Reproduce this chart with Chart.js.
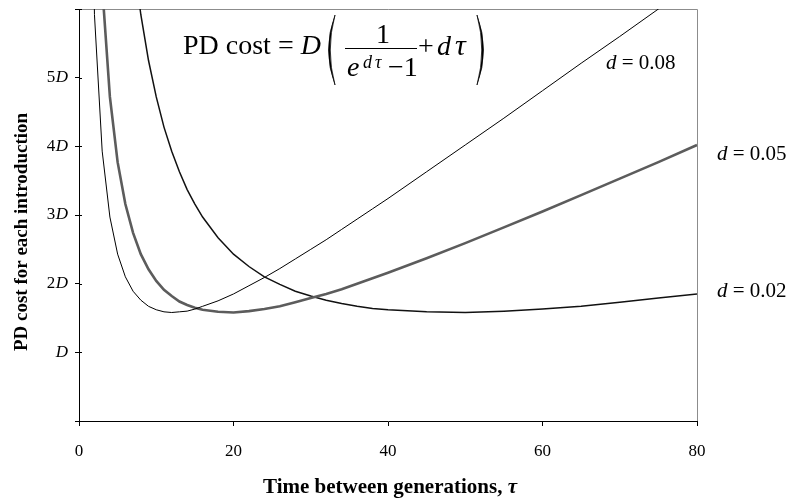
<!DOCTYPE html>
<html>
<head>
<meta charset="utf-8">
<title>PD cost for each introduction</title>
<script src="https://cdn.jsdelivr.net/npm/chart.js@4.4.0/dist/chart.umd.min.js"></script>
<style>
  html, body { margin: 0; padding: 0; background: #fff; }
  #chart { display: block; }
</style>
</head>
<body>
<canvas id="chart" width="790" height="500"></canvas>
<script>
// time between generations (x) and PD cost in units of D for each d
var tau = [1, 2, 3, 4, 5, 6, 7, 8, 9, 10, 11, 12, 13, 14, 15, 16, 18, 20, 22, 24, 26, 28,
           30, 32, 34, 36, 38, 40, 45, 50, 55, 60, 65, 70, 75, 80]
var cost008 = [12.09, 5.92, 3.93, 2.97, 2.43, 2.10, 1.89, 1.76, 1.67, 1.62, 1.59, 1.58, 1.59, 1.60, 1.63, 1.67, 1.75, 1.85, 1.97, 2.09, 2.22, 2.36,
               2.50, 2.64, 2.79, 2.94, 3.09, 3.24, 3.63, 4.02, 4.41, 4.81, 5.21, 5.60, 6.00, 6.40]
var cost005 = [19.55, 9.61, 6.33, 4.72, 3.77, 3.16, 2.74, 2.43, 2.21, 2.04, 1.91, 1.82, 1.74, 1.69, 1.65, 1.62, 1.59, 1.58, 1.60, 1.63, 1.67, 1.73,
               1.79, 1.85, 1.92, 2.00, 2.08, 2.16, 2.37, 2.59, 2.82, 3.05, 3.29, 3.53, 3.77, 4.02]
var cost002 = [49.52, 24.54, 16.23, 12.09, 9.61, 7.96, 6.79, 5.92, 5.25, 4.72, 4.28, 3.93, 3.63, 3.37, 3.16, 2.97, 2.67, 2.43, 2.25, 2.10, 1.99, 1.89,
               1.82, 1.76, 1.71, 1.67, 1.64, 1.62, 1.59, 1.58, 1.60, 1.63, 1.67, 1.73, 1.79, 1.85]

var dValues = ['0.08', '0.05', '0.02']
var yTickLabels = ['', 'D', '2D', '3D', '4D', '5D', '']

var serif = '"Liberation Serif", "Times New Roman", serif'

function points(ys) {
    return tau.map(function (t, i) { return { x: t, y: ys[i] } })
}

// "d = 0.05" style label: italic d, upright rest
function dLabel(ctx, text, x, y) {
    ctx.font = 'italic 21px ' + serif
    ctx.fillText('d', x, y)
    var w = ctx.measureText('d').width
    ctx.font = '21px ' + serif
    ctx.fillText(' = ' + text, x + w, y)
}

function paren(ctx, x0, x1, top, bottom, left) {
    // filled crescent, thick in the middle
    var mid = (top + bottom) / 2
    var tip = left ? x1 : x0
    var outer = left ? x0 - 3 : x1 + 3
    var inner = left ? x0 + 0.5 : x1 - 0.5
    ctx.beginPath()
    ctx.moveTo(tip, top)
    ctx.quadraticCurveTo(outer, mid, tip, bottom)
    ctx.quadraticCurveTo(inner, mid, tip, top)
    ctx.closePath()
    ctx.fill()
    ctx.lineWidth = 0.7
    ctx.stroke()
}

var extras = {
    id: 'extras',
    beforeDatasetsDraw: function (chart) {
        var ctx = chart.ctx
        var a = chart.chartArea
        var y = chart.scales.y
        ctx.save()
        // light frame on top and right
        ctx.strokeStyle = '#8c8c8c'
        ctx.lineWidth = 1
        ctx.beginPath()
        ctx.moveTo(a.left, Math.round(a.top) + 0.5)
        ctx.lineTo(Math.round(a.right) + 0.5, Math.round(a.top) + 0.5)
        ctx.lineTo(Math.round(a.right) + 0.5, a.bottom)
        ctx.stroke()
        // y ticks cross the axis
        ctx.strokeStyle = '#000'
        ctx.beginPath()
        for (var v = 0; v <= 6; v++) {
            var py = Math.round(y.getPixelForValue(v)) + 0.5
            ctx.moveTo(a.left, py)
            ctx.lineTo(a.left + 3, py)
        }
        ctx.stroke()
        ctx.restore()
    },
    afterDraw: function (chart) {
        var ctx = chart.ctx
        var y = chart.scales.y
        ctx.save()
        ctx.fillStyle = '#000'
        ctx.strokeStyle = '#000'

        // y tick labels: upright digit, italic D
        ctx.textBaseline = 'middle'
        ctx.textAlign = 'right'
        yTickLabels.forEach(function (lab, v) {
            if (!lab) return
            var py = y.getPixelForValue(v)
            ctx.font = 'italic 17px ' + serif
            ctx.fillText('D', 68, py)
            var w = ctx.measureText('D').width
            if (lab.length > 1) {
                ctx.font = '17px ' + serif
                ctx.fillText(lab.slice(0, -1), 68 - w - 0.5, py)
            }
        })

        // axis titles
        ctx.textAlign = 'left'
        ctx.textBaseline = 'alphabetic'
        ctx.font = 'bold 21px ' + serif
        var t1 = 'Time between generations, '
        var w1 = ctx.measureText(t1).width
        ctx.font = 'bold italic 21px ' + serif
        var w2 = ctx.measureText('\u03c4').width
        var xs = 390 - (w1 + w2) / 2
        ctx.font = 'bold 21px ' + serif
        ctx.fillText(t1, xs, 493)
        ctx.font = 'bold italic 21px ' + serif
        ctx.fillText('\u03c4', xs + w1, 493)

        ctx.save()
        ctx.translate(22, 232)
        ctx.rotate(-Math.PI / 2)
        ctx.font = 'bold 19px ' + serif
        ctx.textAlign = 'center'
        ctx.textBaseline = 'middle'
        ctx.fillText('PD cost for each introduction', 0, 0)
        ctx.restore()

        // series labels
        ctx.textAlign = 'left'
        ctx.textBaseline = 'alphabetic'
        dLabel(ctx, dValues[0], 606, 69)
        dLabel(ctx, dValues[1], 717, 160)
        dLabel(ctx, dValues[2], 717, 297)

        // formula
        ctx.font = '28px ' + serif
        ctx.fillText('PD cost = ', 183, 54)
        var wp = ctx.measureText('PD cost = ').width
        ctx.font = 'italic 28px ' + serif
        ctx.fillText('D', 183 + wp, 54)

        paren(ctx, 325, 335, 15, 85, true)
        paren(ctx, 477, 487, 15, 85, false)

        ctx.lineWidth = 1.2
        ctx.beginPath()
        ctx.moveTo(345, 48.5)
        ctx.lineTo(417, 48.5)
        ctx.stroke()

        ctx.font = '28px ' + serif
        ctx.textAlign = 'center'
        ctx.fillText('1', 383, 43)
        ctx.textAlign = 'left'
        ctx.font = 'italic 28px ' + serif
        ctx.fillText('e', 347, 76)
        ctx.font = 'italic 18px ' + serif
        ctx.fillText('d', 363, 68)
        ctx.fillText('\u03c4', 375, 68)
        ctx.font = '28px ' + serif
        ctx.fillText('\u22121', 388, 76)
        ctx.fillText('+', 418, 55)
        ctx.font = 'italic 28px ' + serif
        ctx.fillText('d', 437, 55)
        ctx.font = 'italic 30px ' + serif
        ctx.fillText('\u03c4', 455, 55)

        ctx.restore()
    }
}

var ctx = document.getElementById('chart').getContext('2d')
var myChart = new Chart(ctx, {
    type: 'line',
    data: {
        datasets: [{
            label: 'd = ' + dValues[0],
            data: points(cost008),
            borderColor: '#000',
            borderWidth: 1,
            pointRadius: 0,
            tension: 0,
            fill: false
        }, {
            label: 'd = ' + dValues[1],
            data: points(cost005),
            borderColor: '#5c5c5c',
            borderWidth: 2.6,
            pointRadius: 0,
            tension: 0,
            fill: false
        }, {
            label: 'd = ' + dValues[2],
            data: points(cost002),
            borderColor: '#111',
            borderWidth: 1.5,
            pointRadius: 0,
            tension: 0,
            fill: false
        }]
    },
    options: {
        responsive: false,
        devicePixelRatio: 1,
        animation: false,
        layout: { padding: { top: 9, right: 93, left: 0, bottom: 0 } },
        plugins: {
            legend: { display: false },
            tooltip: { enabled: false }
        },
        scales: {
            x: {
                type: 'linear',
                min: 0,
                max: 80,
                ticks: {
                    stepSize: 20,
                    color: '#000',
                    padding: 15,
                    maxRotation: 0,
                    font: { family: serif, size: 17 }
                },
                grid: { drawOnChartArea: false, drawTicks: true, tickLength: 5, color: '#000' },
                border: { color: '#000', width: 1 },
                afterFit: function (scale) { scale.height = 79 }
            },
            y: {
                min: 0,
                max: 6,
                ticks: { stepSize: 1, display: false },
                grid: { drawOnChartArea: false, drawTicks: true, tickLength: 4, color: '#000' },
                border: { color: '#000', width: 1 },
                afterFit: function (scale) { scale.width = 79 }
            }
        }
    },
    plugins: [extras]
})
</script>
</body>
</html>
